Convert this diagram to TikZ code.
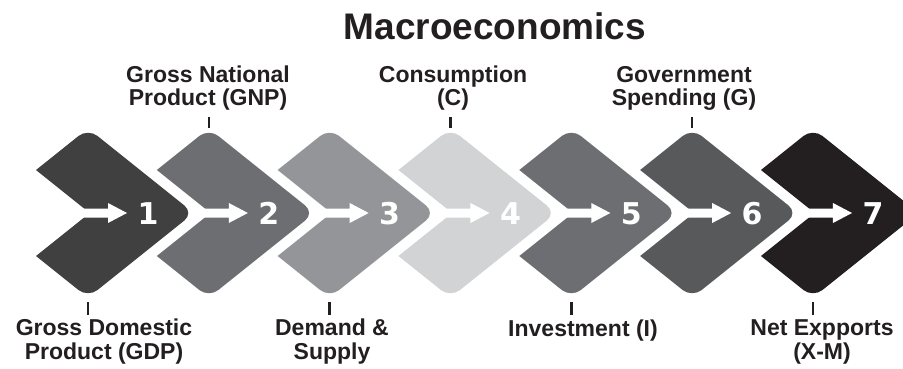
\documentclass[tikz,border=0pt]{standalone}
\usepackage{fontspec}
\setmainfont{Liberation Sans}
\newfontfamily\numfont{DejaVu Sans}
\definecolor{cA}{HTML}{404041}
\definecolor{cB}{HTML}{6D6E71}
\definecolor{cC}{HTML}{939598}
\definecolor{cD}{HTML}{D1D3D4}
\definecolor{cE}{HTML}{6D6E71}
\definecolor{cF}{HTML}{58595B}
\definecolor{cG}{HTML}{231F20}
\definecolor{ink}{HTML}{231F20}
\tikzset{
  lbl/.style={font=\fontsize{23}{24}\selectfont\bfseries, text=ink, align=center, inner sep=0pt, anchor=base},
  ttl/.style={font=\fontsize{37}{40}\selectfont\bfseries, text=ink, inner sep=0pt, anchor=base},
  num/.style={font=\numfont\bfseries\fontsize{30}{30}\selectfont, text=white, inner sep=0pt},
  tickline/.style={draw=ink, line width=2.4pt},
}
\begin{document}
\begin{tikzpicture}[x=1pt,y=-1pt]
\clip (0,0) rectangle (903,369);
\fill[white] (0,0) rectangle (903,369);
\foreach \i/\col in {1/cA,2/cB,3/cC,4/cD,5/cE,6/cF,7/cG}{
  \pgfmathsetmacro\L{36+120.83*(\i-1)}
  \fill[\col] (\L+53.75,213) -- (\L,170) [rounded corners=12pt] -- (\L+52,128.4) -- (\L+157.75,213) -- (\L+52,297.6) [sharp corners] -- (\L,256) -- cycle;
  \fill[white] (\L+45,208.5) -- (\L+72,208.5) -- (\L+72,203) -- (\L+91,213) -- (\L+72,223) -- (\L+72,217.5) -- (\L+45,217.5) -- cycle;
  \node[num] (num\i) at (\L+112,213.5) {\i};
  \coordinate (apT\i) at (\L+52,128);
  \coordinate (tkT\i) at (\L+52,117);
  \coordinate (apB\i) at (\L+52,302);
  \coordinate (tkB\i) at (\L+52,315);
}
\node[ttl] (title) at (495,40) {Macroeconomics};
\node[lbl] (gnp) at (208,106) {Gross National\\Product (GNP)};
\node[lbl] (cons) at (453,106) {Consumption\\(C)};
\node[lbl] (gov) at (684,106) {Government\\Spending (G)};
\node[lbl] (gdp) at (104,359) {Gross Domestic\\Product (GDP)};
\node[lbl] (dem) at (332,359) {Demand \&\\Supply};
\node[lbl] (inv) at (583,336) {Investment (I)};
\node[lbl] (net) at (822,359) {Net Expports\\(X-M)};
\draw[tickline] (tkT2) -- (apT2);
\draw[tickline] (tkT4) -- (apT4);
\draw[tickline] (tkT6) -- (apT6);
\draw[tickline] (apB1) -- (tkB1);
\draw[tickline] (apB3) -- (tkB3);
\draw[tickline] (apB5) -- (tkB5);
\draw[tickline] (apB7) -- (tkB7);
\end{tikzpicture}
\end{document}
